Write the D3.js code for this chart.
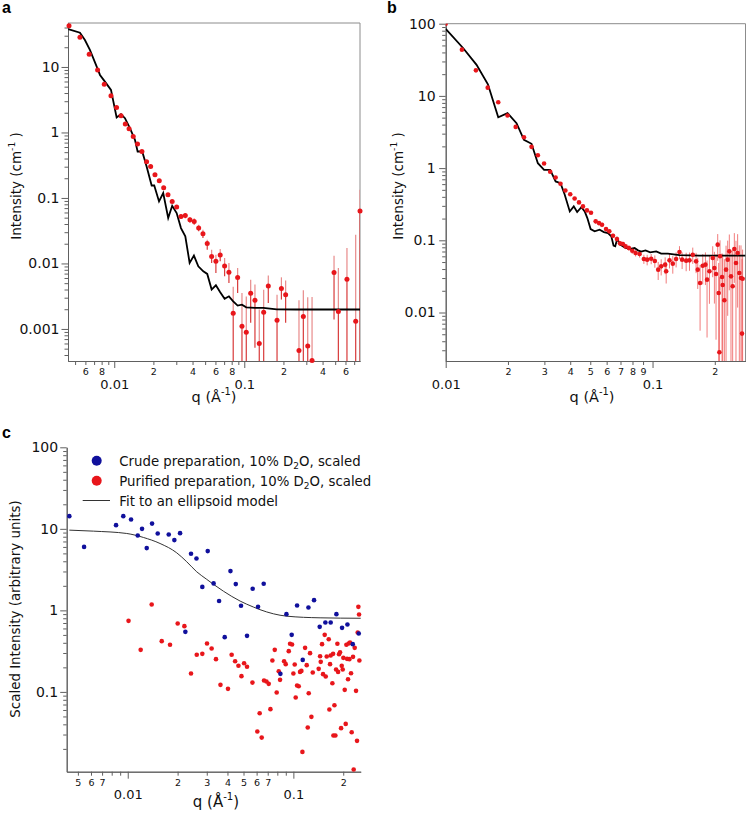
<!DOCTYPE html>
<html><head><meta charset="utf-8">
<script src="https://cdn.jsdelivr.net/npm/d3@7"></script>
<style>
body{margin:0;background:#fff;}
svg{display:block;font-family:"DejaVu Sans",Verdana,sans-serif;}
</style></head><body>
<svg id="chart" width="747" height="813"></svg>
<script>
// ---------- Panel a data ----------
const qA = [0.00449,0.00545,0.00642,0.00745,0.00838,0.00944,0.01042,0.01128,0.01216,0.0130,
            0.0140,0.0151,0.01633,0.01774,0.01905,0.02057,0.0222,0.0240,0.0259,0.0279,
            0.0302,0.0326,0.0352,0.0382,0.0412,0.0446,0.0481,0.0519,0.0561,0.0605,
            0.0653,0.0706,0.0762,0.0822,0.0889,0.0960,0.1036,0.112,0.1208,0.1304,
            0.141,0.153,0.1786,0.193,0.208,0.2634,0.2845,0.3075,0.332,0.49,
            0.529,0.616,0.719,0.776];
const IA = [42.6,28.4,15.6,9.0,5.45,3.65,2.40,1.8,1.35,1.135,
            0.867,0.664,0.512,0.356,0.302,0.226,0.183,0.143,0.112,0.0885,
            0.0727,0.0523,0.054,0.0466,0.0438,0.0348,0.0284,0.0202,0.0128,0.0108,
            0.0135,0.00916,0.00731,0.00173,0.00608,0.0011,0.00089,0.0035,0.00274,0.0006,
            0.0018,0.00454,0.00136,0.00413,0.00334,0.00047,0.00155,0.00055,0.00033,0.0073,
            0.00184,0.00573,0.00131,0.063];
const errHiA = [null,null,null,null,null,null,null,null,null,null,
            null,null,null,null,null,null,null,null,null,null,
            0.078,0.057,0.059,0.051,0.049,0.039,0.0327,0.0231,0.0162,0.0136,
            0.0166,0.0121,0.0102,0.00439,0.00853,0.00355,0.00312,0.00566,0.00475,0.00198,
            0.00398,0.00652,0.00334,0.00614,0.00547,0.00274,0.00389,0.00304,0.00308,0.01315,
            0.00853,0.0172,0.0275,0.133];
const errLoA = [null,null,null,null,null,null,null,null,null,null,
            null,null,null,null,null,null,null,null,null,null,
            0.068,0.048,0.049,0.042,0.039,0.031,0.0245,0.0162,0.0102,0.00716,
            0.0108,0.00636,0.00505,1e-5,0.00355,1e-5,1e-5,0.00124,0.000515,1e-5,
            1e-5,0.0025,1e-5,0.00281,0.00124,1e-5,1e-5,1e-5,1e-5,0.00139,
            1e-5,1e-5,1e-5,1e-5];
const qFitA = [0.00443,0.00545,0.00595,0.0065,0.00733,0.00777,0.00848,0.00944,0.01043,0.01127,
            0.01209,0.0132,0.01443,0.01513,0.01641,0.01774,0.0194,0.0203,0.0221,0.0238,
            0.026,0.0279,0.0302,0.0326,0.0352,0.038,0.041,0.0443,0.0484,0.0519,
            0.0561,0.0605,0.0653,0.0706,0.0762,0.0822,0.0889,0.096,0.1035,0.1208,
            0.14,0.1775,0.25,0.4,0.776];
const IFitA = [37.9,33.3,25.8,18.2,10.1,7.55,5.97,4.46,1.69,1.90,
            1.65,1.16,0.771,0.512,0.512,0.302,0.155,0.155,0.0885,0.119,
            0.0494,0.076,0.0589,0.0347,0.0259,0.0102,0.0132,0.00904,0.00758,0.00692,
            0.00399,0.00464,0.00363,0.00288,0.00315,0.00264,0.00227,0.00235,0.00214,0.0021,
            0.0021,0.00199,0.00198,0.00198,0.00198];

// ---------- Panel b data ----------
const qB = [0.0100,0.01198,0.0140,0.01596,0.01795,0.0199,0.0218,0.0239,0.0260,0.0279,
            0.0299,0.0320,0.0340,0.0359,0.0379,0.0400,0.0420,0.0441,0.0461,0.0482,
            0.0504,0.0531,0.0551,0.0570,0.0596,0.0618,0.0644,0.0673,0.0696,0.0719,
            0.0741,0.0769,0.0798,0.0828,0.0866,0.0908,0.0942,0.0985,0.1026,0.1065,
            0.1101,0.1151,0.1164,0.1208,0.1253,0.1300,0.1350,0.1390,0.1454,0.1509,
            0.1565,0.1624,0.1654,0.1698,0.1749,0.1802,0.1835,0.1884,0.1954,0.1991,
            0.2028,0.2066,0.2089,0.2105,0.2120,0.2168,0.2184,0.2225,0.2267,0.2309,
            0.2351,0.2395,0.2440,0.2486,0.2532,0.2579,0.2628,0.2677,0.2708,0.2726];
const IB = [100,43.7,22.6,13.0,8.18,5.35,3.72,2.68,1.97,1.51,
            1.16,0.889,0.741,0.607,0.49,0.435,0.38,0.335,0.295,0.2595,
            0.241,0.183,0.173,0.164,0.143,0.133,0.1158,0.104,0.0907,0.0888,
            0.0824,0.0782,0.0718,0.0667,0.0646,0.0551,0.054,0.0556,0.0517,0.0392,
            0.0436,0.046,0.0372,0.0528,0.0475,0.0551,0.0689,0.054,0.0523,0.0528,
            0.0632,0.0511,0.0392,0.0256,0.0445,0.046,0.0285,0.0372,0.0568,0.0413,
            0.0342,0.087,0.0186,0.00282,0.06,0.031,0.0241,0.01476,0.0392,0.054,
            0.0703,0.0317,0.0231,0.0757,0.0485,0.0667,0.0353,0.0301,0.0051,0.0294];
const errB = [2,1,0.5,0.3,0.2,0.13,0.09,0.07,0.05,0.04,
            0.03,0.025,0.02,0.017,0.014,0.012,0.011,0.01,0.009,0.008,
            0.008,0.013,0.012,0.012,0.01,0.009,0.008,0.008,0.007,0.007,
            0.007,0.007,0.007,0.007,0.007,0.008,0.009,0.009,0.01,0.011,
            0.011,0.012,0.012,0.012,0.013,0.013,0.014,0.014,0.015,0.015,
            0.016,0.016,0.018,0.02,0.02,0.022,0.024,0.024,0.026,0.028,
            0.03,0.035,0.03,0.028,0.04,0.035,0.04,0.04,0.045,0.045,
            0.05,0.04,0.05,0.05,0.05,0.055,0.05,0.055,0.05,0.045];
const qFitB = [0.01,0.01216,0.0141,0.016,0.01795,0.0199,0.022,0.0239,0.026,0.0279,
            0.0299,0.032,0.034,0.0359,0.0376,0.0398,0.0416,0.0432,0.0453,0.047,
            0.0484,0.0502,0.0525,0.0555,0.0582,0.0609,0.0632,0.0648,0.066,0.0675,
            0.0698,0.0733,0.0774,0.0819,0.085,0.0882,0.0925,0.0974,0.1042,0.1101,
            0.1186,0.135,0.1685,0.2815];
const IFitB = [84.5,45.7,26.9,14.5,5.07,5.77,4.19,2.46,2.17,1.17,
            0.947,0.947,0.653,0.62,0.43,0.251,0.295,0.246,0.288,0.251,
            0.203,0.143,0.133,0.140,0.130,0.126,0.1133,0.0842,0.0824,0.1052,
            0.087,0.0798,0.0757,0.0782,0.0726,0.0696,0.0726,0.0681,0.0703,0.0653,
            0.0653,0.0625,0.0612,0.0612];

// ---------- Panel c data ----------
const qCrude = [0.00444,0.00545,0.0085,0.0094,0.01047,0.01149,0.0122,0.01302,0.01402,0.01517,
            0.01768,0.01912,0.0207,0.02228,0.0241,0.026,0.0282,0.0304,0.033,0.0356,
            0.0385,0.0417,0.0449,0.0483,0.0525,0.0568,0.0612,0.0662,0.0835,0.0908,
            0.0977,0.1053,0.1139,0.1233,0.1333,0.1442,0.156,0.168,0.1819,0.1968,
            0.212,0.2284,0.2482];
const ICrude = [14.3,6.0,11.1,14.3,13.0,8.29,10.0,5.80,11.6,8.77,
            8.53,7.27,8.85,0.545,4.94,4.33,1.94,5.33,2.14,1.30,
            0.469,3.03,2.10,1.14,0.487,1.84,1.105,2.12,0.1665,0.898,
            0.501,1.147,0.247,1.084,1.334,0.628,0.71,0.71,0.898,0.61,
            0.671,0.385,0.52];
const qPure = [0.01011,0.01197,0.01395,0.01604,0.018,0.02002,0.02198,0.0241,0.0261,0.0282,
            0.0301,0.0321,0.0341,0.0363,0.0403,0.0424,0.0445,0.0466,0.0486,0.0504,
            0.0525,0.0566,0.0606,0.0626,0.0644,0.0665,0.0688,0.071,0.0727,0.0747,
            0.0772,0.0793,0.0816,0.0831,0.0879,0.0899,0.0938,0.0955,0.0982,0.1,
            0.1019,0.1033,0.1053,0.1077,0.1097,0.1118,0.1134,0.1177,0.1204,0.1221,
            0.1238,0.1261,0.1285,0.1309,0.1422,0.145,0.1463,0.149,0.1511,0.1546,
            0.1568,0.159,0.1635,0.165,0.1665,0.168,0.172,0.1737,0.1745,0.177,
            0.1794,0.1811,0.1844,0.1862,0.1887,0.1913,0.1941,0.1959,0.1986,0.2004,
            0.2042,0.207,0.209,0.2109,0.2138,0.2158,0.2178,0.2198,0.2229,0.225,
            0.2292,0.2313,0.2346,0.239,0.2423,0.2446,0.2469,0.2492,0.2503];
const IPure = [0.744,0.328,1.18,0.419,0.378,0.69,0.64,0.168,0.285,0.293,
            0.392,0.34,0.252,0.122,0.109,0.285,0.238,0.209,0.156,0.225,
            0.203,0.130,0.0327,0.0548,0.0275,0.138,0.134,0.1255,0.0614,0.2426,
            0.328,0.0983,0.1795,0.1406,0.238,0.2188,0.316,0.389,0.381,0.168,
            0.2167,0.0853,0.1197,0.1175,0.176,0.181,0.01837,0.347,0.2127,0.0366,
            0.0964,0.2985,0.0494,0.1728,0.1917,0.274,0.2335,0.385,0.165,0.501,
            0.1544,0.2717,0.4432,0.0608,0.2188,0.2794,0.1279,0.293,0.02915,0.0687,
            0.02915,0.188,0.389,0.176,0.29,0.307,0.0359,0.2087,0.188,0.2617,
            0.1059,0.0405,0.378,0.2543,0.1432,0.392,0.252,0.4035,0.1696,0.032,
            0.2691,0.01115,0.347,0.103,0.0251,0.5354,1.105,0.89,0.2426];
const qFitC = [0.00444,0.0062,0.00986,0.01243,0.01567,0.01976,0.0227,0.0261,0.030,0.033,
            0.0378,0.0477,0.0573,0.0629,0.0912,0.145,0.255];
const IFitC = [9.64,9.37,8.77,7.84,6.61,5.08,3.95,2.97,2.4,2.08,
            1.72,1.30,1.10,1.02,0.849,0.81,0.80];
const legendC = ["Crude preparation, 10% D", "Purified preparation, 10% D", "Fit to an ellipsoid model"];

// ---------- tick labels ----------
const yMajA = [0.001,0.01,0.1,1,10], yLabA = ["0.001","0.01","0.1","1","10"];
const yMajB = [0.01,0.1,1,10,100],  yLabB = ["0.01","0.1","1","10","100"];
const yMajC = [0.1,1,10,100],       yLabC = ["0.1","1","10","100"];
const xMajA = [0.01,0.1], xLabA = ["0.01","0.1"];
const xMajB = [0.01,0.1], xLabB = ["0.01","0.1"];
const xMajC = [0.01,0.1], xLabC = ["0.01","0.1"];
const xMinLabA = [0.006,0.008,0.02,0.04,0.06,0.08,0.2,0.4,0.6];
const xMinLabB = [0.02,0.03,0.04,0.05,0.06,0.07,0.08,0.09,0.2];
const xMinLabC = [0.005,0.006,0.007,0.02,0.03,0.04,0.05,0.06,0.07,0.2];

// ---------- drawing ----------
const svg = d3.select("#chart");
const RED = "#e8161b", BLUE = "#10109c", AX = "#606060";

function isDecade(v){ const l = Math.log10(v); return Math.abs(l - Math.round(l)) < 1e-6; }
function lead(v){ return Math.round(v / Math.pow(10, Math.floor(Math.log10(v) + 1e-9))); }
function inList(v, list){ return list.some(m => Math.abs(m - v) / m < 1e-6); }

function panel(o){
  const x = d3.scaleLog().domain(o.xDom).range([o.L, o.R]);
  const y = d3.scaleLog().domain(o.yDom).range([o.B, o.T]);
  const g = svg.append("g");
  const cid = "clip" + o.name;
  svg.append("clipPath").attr("id", cid).append("rect")
    .attr("x", o.L).attr("y", o.T).attr("width", o.R - o.L).attr("height", o.B - o.T);
  if (o.frame) {
    g.append("path").attr("d", `M${o.L},${o.T}H${o.R}V${o.B}`)
      .attr("fill", "none").attr("stroke", "#8c8c8c").attr("stroke-width", 1);
  }
  const yMinor = y.ticks().filter(v => !isDecade(v));
  g.append("g").attr("transform", `translate(${o.L},0)`)
    .call(d3.axisLeft(y).tickValues(yMinor).tickSize(3.5).tickSizeOuter(0).tickFormat(""));
  const ya = g.append("g").attr("transform", `translate(${o.L},0)`)
    .call(d3.axisLeft(y).tickValues(o.yMaj).tickSize(6.5).tickSizeOuter(0).tickPadding(o.yPad)
      .tickFormat((d, i) => o.yLab[i]));
  ya.selectAll("text").style("font-size", "14px").attr("fill", "#111");
  const xMinor = x.ticks().filter(v => !isDecade(v));
  const xm = g.append("g").attr("transform", `translate(0,${o.B})`)
    .call(d3.axisBottom(x).tickValues(xMinor).tickSize(4).tickSizeOuter(0).tickPadding(3.5)
      .tickFormat(v => inList(v, o.xMinLab) ? String(lead(v)) : ""));
  xm.selectAll("text").style("font-size", "9.5px").attr("fill", "#111");
  const xa = g.append("g").attr("transform", `translate(0,${o.B})`)
    .call(d3.axisBottom(x).tickValues(o.xMaj).tickSize(7).tickSizeOuter(0).tickPadding(o.xPad)
      .tickFormat((d, i) => o.xLab[i]));
  xa.selectAll("text").style("font-size", "13px").attr("fill", "#111");
  g.selectAll(".domain, .tick line").attr("stroke", AX);
  g.selectAll(".tick text").style("font-family", '"DejaVu Sans",Verdana,sans-serif');
  return {x, y, g, clip: `url(#${cid})`};
}

function supTitle(g, x, y, rot, pre, sup, post, size){
  const t = g.append("text")
    .attr("transform", `translate(${x},${y})` + (rot ? " rotate(-90)" : ""))
    .attr("text-anchor", "middle").style("font-size", size + "px").attr("fill", "#111");
  t.append("tspan").text(pre);
  if (sup) {
    t.append("tspan").attr("dy", -size * 0.45).style("font-size", (size * 0.68) + "px").text(sup);
    t.append("tspan").attr("dy", size * 0.45).text(post);
  }
}

function letter(txt, x, y){
  svg.append("text").attr("x", x).attr("y", y).text(txt)
    .style("font-family", '"Liberation Sans",Arial,sans-serif').style("font-weight", "bold")
    .style("font-size", "16px").attr("fill", "#000");
}

// ===== Panel a =====
const PA = panel({name:"a", L:68, R:360, T:23, B:361, xDom:[0.00441,0.776], yDom:[0.000324,46.9],
  frame:true, yMaj:yMajA, yLab:yLabA, yPad:2, xMaj:xMajA, xLab:xLabA, xMinLab:xMinLabA, xPad:11.5});
const ebA = PA.g.append("g").attr("clip-path", PA.clip);
qA.forEach((q, i) => {
  if (errHiA[i] == null) return;
  ebA.append("line").attr("x1", PA.x(q)).attr("x2", PA.x(q))
    .attr("y1", PA.y(IA[i])).attr("y2", PA.y(errHiA[i]))
    .attr("stroke", "#e88a8a").attr("stroke-width", 1.2);
  ebA.append("line").attr("x1", PA.x(q)).attr("x2", PA.x(q))
    .attr("y1", PA.y(IA[i])).attr("y2", PA.y(errLoA[i]))
    .attr("stroke", "#d83a3a").attr("stroke-width", 1.2);
});
PA.g.append("path").datum(qFitA.map((q, i) => [q, IFitA[i]]))
  .attr("clip-path", PA.clip)
  .attr("d", d3.line().x(d => PA.x(d[0])).y(d => PA.y(d[1])))
  .attr("fill", "none").attr("stroke", "#000").attr("stroke-width", 1.8);
PA.g.append("g").selectAll("circle").data(qA.map((q, i) => [q, IA[i]])).join("circle")
  .attr("cx", d => PA.x(d[0])).attr("cy", d => PA.y(d[1])).attr("r", 2.5).attr("fill", RED);
supTitle(PA.g, 21, 186, true, "Intensity (cm", "-1", " )", 13.5);
supTitle(PA.g, 214, 402, false, "q (Å", "-1", ")", 14.5);
letter("a", 2, 13);

// ===== Panel b =====
const PB = panel({name:"b", L:445.7, R:745.5, T:23.7, B:361, xDom:[0.01,0.2815], yDom:[0.00213,100],
  frame:true, yMaj:yMajB, yLab:yLabB, yPad:3.5, xMaj:xMajB, xLab:xLabB, xMinLab:xMinLabB, xPad:11.5});
const ebB = PB.g.append("g").attr("clip-path", PB.clip);
qB.forEach((q, i) => {
  const lo = IB[i] - errB[i];
  ebB.append("line").attr("x1", PB.x(q)).attr("x2", PB.x(q))
    .attr("y1", PB.y(IB[i] + errB[i])).attr("y2", lo > 0 ? PB.y(lo) : PB.y.range()[0] + 5)
    .attr("stroke", "#ec5050").attr("stroke-opacity", 0.75).attr("stroke-width", 1);
});
PB.g.append("path").datum(qFitB.map((q, i) => [q, IFitB[i]]))
  .attr("clip-path", PB.clip)
  .attr("d", d3.line().x(d => PB.x(d[0])).y(d => PB.y(d[1])))
  .attr("fill", "none").attr("stroke", "#000").attr("stroke-width", 1.8);
PB.g.append("g").attr("clip-path", PB.clip).selectAll("circle").data(qB.map((q, i) => [q, IB[i]])).join("circle")
  .attr("cx", d => PB.x(d[0])).attr("cy", d => PB.y(d[1])).attr("r", 2.3).attr("fill", RED);
supTitle(PB.g, 403, 186, true, "Intensity (cm", "-1", " )", 13.5);
supTitle(PB.g, 592, 402, false, "q (Å", "-1", ")", 14.5);
letter("b", 387, 13);

// ===== Panel c =====
const PC = panel({name:"c", L:66.7, R:360.7, T:447.3, B:771.7, xDom:[0.00428,0.255], yDom:[0.0105,100],
  frame:false, yMaj:yMajC, yLab:yLabC, yPad:2, xMaj:xMajC, xLab:xLabC, xMinLab:xMinLabC, xPad:11});
PC.g.append("path").datum(qFitC.map((q, i) => [q, IFitC[i]]))
  .attr("d", d3.line().curve(d3.curveMonotoneX).x(d => PC.x(d[0])).y(d => PC.y(d[1])))
  .attr("fill", "none").attr("stroke", "#333").attr("stroke-width", 1);
PC.g.append("g").selectAll("circle").data(qPure.map((q, i) => [q, IPure[i]])).join("circle")
  .attr("cx", d => PC.x(d[0])).attr("cy", d => PC.y(d[1])).attr("r", 2.3).attr("fill", RED);
PC.g.append("g").selectAll("circle").data(qCrude.map((q, i) => [q, ICrude[i]])).join("circle")
  .attr("cx", d => PC.x(d[0])).attr("cy", d => PC.y(d[1])).attr("r", 2.3).attr("fill", BLUE);
supTitle(PC.g, 20, 609, true, "Scaled Intensity (arbitrary units)", "", "", 13.4);
supTitle(PC.g, 216, 807, false, "q (Å", "-1", ")", 15);
letter("c", 2, 438);

// legend
const lg = PC.g.append("g");
[BLUE, RED].forEach((col, i) => {
  lg.append("circle").attr("cx", 96.7).attr("cy", 460.7 + i * 20).attr("r", 5).attr("fill", col);
  const t = lg.append("text").attr("x", 119.3).attr("y", 465.5 + i * 20)
    .style("font-size", "13.3px").attr("fill", "#111");
  t.append("tspan").text(legendC[i]);
  t.append("tspan").attr("dy", 3).style("font-size", "9px").text("2");
  t.append("tspan").attr("dy", -3).text("O, scaled");
});
lg.append("line").attr("x1", 82.7).attr("x2", 110).attr("y1", 500.5).attr("y2", 500.5)
  .attr("stroke", "#333").attr("stroke-width", 1);
lg.append("text").attr("x", 119.3).attr("y", 505.5).style("font-size", "13.3px").attr("fill", "#111")
  .text(legendC[2]);
</script>
</body></html>
